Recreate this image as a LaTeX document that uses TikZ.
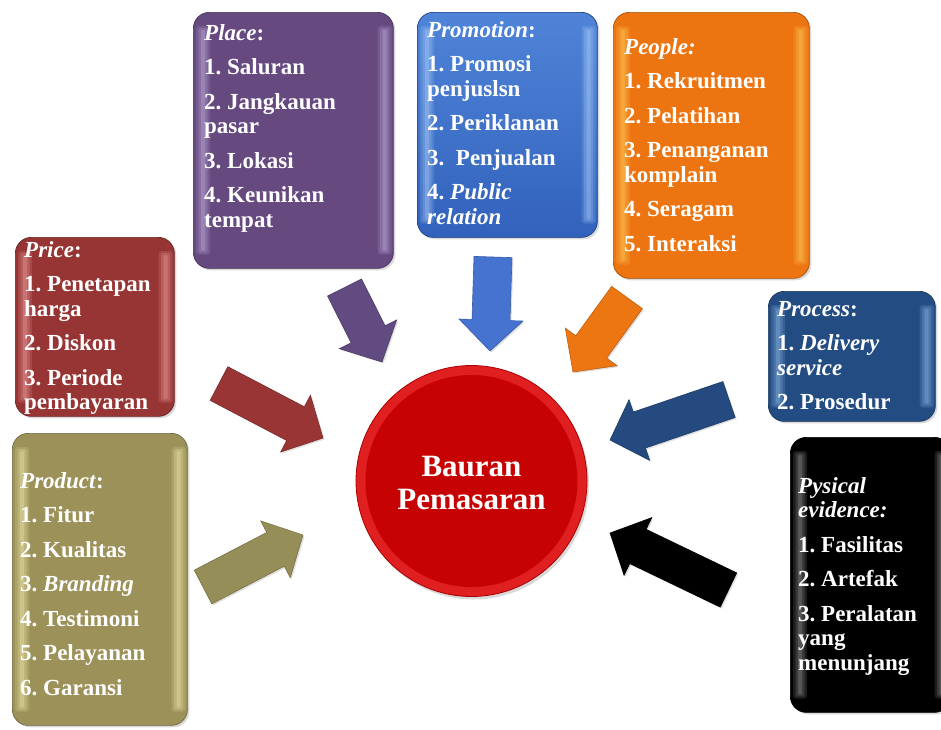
\documentclass[tikz,border=0pt]{standalone}
\usepackage{fontspec}
\setmainfont{Liberation Serif}
\usetikzlibrary{calc,shadows}

% fill colours of the boxes and arrows
\definecolor{placeC}{HTML}{65497F}
\definecolor{placeL}{HTML}{D2BFEE}
\definecolor{promoTop}{HTML}{4F84D8}
\definecolor{promoBot}{HTML}{3262BC}
\definecolor{promoL}{HTML}{BEDCFF}
\definecolor{peopleC}{HTML}{ED7511}
\definecolor{peopleL}{HTML}{FFD866}
\definecolor{priceC}{HTML}{973535}
\definecolor{priceL}{HTML}{FFB4B4}
\definecolor{processC}{HTML}{234D82}
\definecolor{processL}{HTML}{A0CAFA}
\definecolor{evidC}{HTML}{000000}
\definecolor{evidL}{HTML}{B0B0B0}
\definecolor{productC}{HTML}{9C9259}
\definecolor{productL}{HTML}{FFF8BC}
\definecolor{arrPlace}{HTML}{624B80}
\definecolor{arrPromo}{HTML}{4673D0}
\definecolor{arrPeople}{HTML}{EC7612}
\definecolor{arrProcess}{HTML}{244A80}
\definecolor{arrPrice}{HTML}{9A3535}
\definecolor{arrProduct}{HTML}{958E58}
\definecolor{mixOuter}{HTML}{E02020}
\definecolor{mixInner}{HTML}{C70202}
\definecolor{mixEdge}{HTML}{A80000}

% text block whose baseline is its first line
\newcommand\itemlist[1]{\parbox[t]{220pt}{\raggedright\frenchspacing
  \setlength\parskip{10pt}#1}}

% one soft vertical stripe built from layered translucent bands
% #1 top point, #2 bottom point, #3 colour
\newcommand\stripe[3]{%
  \fill[#3, opacity=0.16, rounded corners=3pt] ($(#1)+(-7,0)$) rectangle ($(#2)+(7,0)$);
  \fill[#3, opacity=0.20, rounded corners=2pt] ($(#1)+(-4.5,2)$) rectangle ($(#2)+(4.5,-2)$);
  \fill[#3, opacity=0.25, rounded corners=1pt] ($(#1)+(-2,4)$) rectangle ($(#2)+(2,-4)$);
}
% bevel stripes along the left and right edges of a box
\newcommand\gloss[2]{%
  \stripe{$(#1.north west)+(10,14)$}{$(#1.south west)+(10,-14)$}{#2}
  \stripe{$(#1.north east)+(-9,14)$}{$(#1.south east)+(-9,-14)$}{#2}
}

% block arrow from a tail coordinate to a tip coordinate
\newcommand\blockarrow[3]{%
  \coordinate (hb) at ($(#2)!31pt!(#1)$);
  \path[fill=#3, draw=#3!80!black, line width=0.6pt,
        drop shadow={opacity=0.25, shadow xshift=1.5pt, shadow yshift=-1.5pt}]
    ($(#1)!19pt!90:(#2)$) -- ($(hb)!19pt!-90:(#1)$) -- ($(hb)!32pt!-90:(#1)$)
    -- (#2) -- ($(hb)!32pt!90:(#1)$) -- ($(hb)!19pt!90:(#1)$)
    -- ($(#1)!19pt!-90:(#2)$) -- cycle;
}

\begin{document}
\begin{tikzpicture}[x=1pt,y=-1pt,
  gbox/.style={rounded corners=16pt, draw=#1!70!black, line width=0.7pt,
    fill=#1, anchor=north west, inner sep=0pt,
    drop shadow={opacity=0.3, shadow xshift=2pt, shadow yshift=-2pt}},
  txt/.style={anchor=base west, inner sep=0pt, text=white,
    font=\fontsize{23}{24.5}\selectfont\bfseries}]

\useasboundingbox (0,0) rectangle (941,729);

% ---------- boxes ----------
\node[gbox=placeC, minimum width=200pt, minimum height=256pt] (place) at (193,12) {};
\gloss{place}{placeL}
\node[txt] (placetxt) at (204,40) {\itemlist{\textit{Place}:\par
  1. Saluran\par 2. Jangkauan\\pasar\par 3. Lokasi\par 4. Keunikan\\tempat}};

\node[gbox=promoBot, top color=promoTop, bottom color=promoBot,
      minimum width=180pt, minimum height=225pt] (promo) at (417,12) {};
\gloss{promo}{promoL}
\node[txt] (promotxt) at (427,37) {\itemlist{\textit{Promotion}:\par
  1. Promosi\\penjuslsn\par 2. Periklanan\par 3.\ \ Penjualan\par
  4. \textit{Public\\relation}}};

\node[gbox=peopleC, minimum width=196pt, minimum height=266pt] (people) at (613,12) {};
\gloss{people}{peopleL}
\node[txt] (peopletxt) at (624,54) {\itemlist{\textit{People:}\par
  1. Rekruitmen\par 2. Pelatihan\par 3. Penanganan\\komplain\par
  4. Seragam\par 5. Interaksi}};

\node[gbox=priceC, minimum width=159pt, minimum height=179pt] (price) at (15,237) {};
\gloss{price}{priceL}
\node[txt] (pricetxt) at (24,257) {\itemlist{\textit{Price}:\par
  1. Penetapan\\harga\par 2. Diskon\par 3. Periode\\pembayaran}};

\node[gbox=processC, minimum width=167pt, minimum height=130pt] (process) at (768,291) {};
\gloss{process}{processL}
\node[txt] (processtxt) at (777,316) {\itemlist{\textit{Process}:\par
  1. \textit{Delivery\\service}\par 2. Prosedur}};

\node[gbox=evidC, minimum width=160pt, minimum height=275pt] (evid) at (790,437) {};
\gloss{evid}{evidL}
\node[txt] (evidtxt) at (798,493) {\itemlist{\textit{Pysical\\evidence:}\par
  1. Fasilitas\par 2. Artefak\par 3. Peralatan\\yang\\menunjang}};

\node[gbox=productC, minimum width=175pt, minimum height=292pt] (product) at (12,433) {};
\gloss{product}{productL}
\node[txt] (producttxt) at (20,488) {\itemlist{\textit{Product}:\par
  1. Fitur\par 2. Kualitas\par 3. \textit{Branding}\par 4. Testimoni\par
  5. Pelayanan\par 6. Garansi}};

% ---------- central disc ----------
\node[circle, minimum size=231pt, inner sep=0pt, fill=mixOuter, draw=mixEdge,
      line width=0.8pt,
      drop shadow={opacity=0.3, shadow xshift=2pt, shadow yshift=-3pt}]
      (mix) at (471.5,481) {};
\fill[mixInner] (mix.center) circle[radius=106pt];
\node[text=white, align=center, inner sep=0pt,
      font=\fontsize{31}{33}\selectfont\bfseries] (mixtxt) at (471.5,483)
      {Bauran\\Pemasaran};

% ---------- arrows towards the disc ----------
\coordinate (t1) at (344.5,287.5); \coordinate (p1) at (382,362);
\coordinate (t2) at (493,257);     \coordinate (p2) at (490,351);
\coordinate (t3) at (627,297.5);   \coordinate (p3) at (573,372);
\coordinate (t4) at (729,399.5);   \coordinate (p4) at (610,440);
\coordinate (t5) at (728.5,590);   \coordinate (p5) at (610,533);
\coordinate (t6) at (219,383.5);   \coordinate (p6) at (323,438);
\coordinate (t7) at (203,587);     \coordinate (p7) at (303,535);

\blockarrow{t1}{p1}{arrPlace}
\blockarrow{t2}{p2}{arrPromo}
\blockarrow{t3}{p3}{arrPeople}
\blockarrow{t4}{p4}{arrProcess}
\blockarrow{t5}{p5}{black}
\blockarrow{t6}{p6}{arrPrice}
\blockarrow{t7}{p7}{arrProduct}

\end{tikzpicture}
\end{document}
